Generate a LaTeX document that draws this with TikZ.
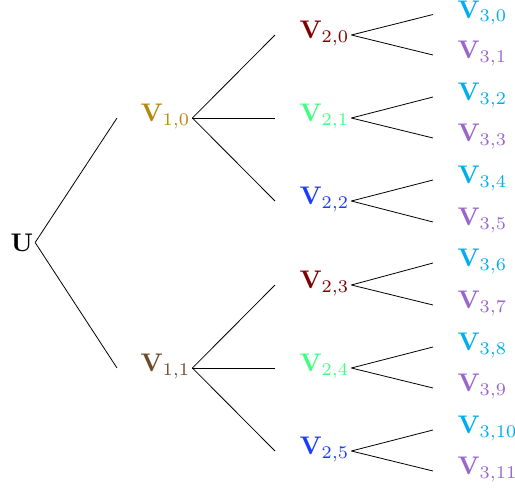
\documentclass[tikz,border=0pt]{standalone}
\usepackage{xcolor}
\definecolor{cA}{RGB}{184,134,11}
\definecolor{cB}{RGB}{111,74,42}
\definecolor{cC}{RGB}{128,0,0}
\definecolor{cD}{RGB}{64,255,128}
\definecolor{cE}{RGB}{26,60,255}
\definecolor{cF}{RGB}{0,174,239}
\definecolor{cG}{RGB}{153,102,204}
\begin{document}
\begin{tikzpicture}[x=1pt,y=-1pt,
  lbl/.style={anchor=west,scale=2.55,transform shape,inner xsep=0.6pt,inner ysep=0pt,text height=5.6pt,text depth=2.85pt},
  br/.style={line width=0.8pt}]
\useasboundingbox (0,0) rectangle (515,488);
\node[lbl,text height=6.86pt,text depth=0pt] (u) at (8.5,242.5) {$\mathbf{U}$};
\node[lbl,text=cA] (a0) at (138.5,118) {$\mathbf{V}_{1,0}$};
\node[lbl,text=cB] (a1) at (138.5,368) {$\mathbf{V}_{1,1}$};
\node[lbl,text=cC] (b0) at (297.5,35) {$\mathbf{V}_{2,0}$};
\node[lbl,text=cD] (b1) at (297.5,118) {$\mathbf{V}_{2,1}$};
\node[lbl,text=cE] (b2) at (297.5,201) {$\mathbf{V}_{2,2}$};
\node[lbl,text=cC] (b3) at (297.5,285) {$\mathbf{V}_{2,3}$};
\node[lbl,text=cD] (b4) at (297.5,368) {$\mathbf{V}_{2,4}$};
\node[lbl,text=cE] (b5) at (297.5,451) {$\mathbf{V}_{2,5}$};
\node[lbl,text=cF] (c0) at (455.5,14.5) {$\mathbf{V}_{3,0}$};
\node[lbl,text=cG] (c1) at (455.5,55) {$\mathbf{V}_{3,1}$};
\node[lbl,text=cF] (c2) at (455.5,97) {$\mathbf{V}_{3,2}$};
\node[lbl,text=cG] (c3) at (455.5,138) {$\mathbf{V}_{3,3}$};
\node[lbl,text=cF] (c4) at (455.5,180) {$\mathbf{V}_{3,4}$};
\node[lbl,text=cG] (c5) at (455.5,222) {$\mathbf{V}_{3,5}$};
\node[lbl,text=cF] (c6) at (455.5,263) {$\mathbf{V}_{3,6}$};
\node[lbl,text=cG] (c7) at (455.5,305) {$\mathbf{V}_{3,7}$};
\node[lbl,text=cF] (c8) at (455.5,347) {$\mathbf{V}_{3,8}$};
\node[lbl,text=cG] (c9) at (455.5,388) {$\mathbf{V}_{3,9}$};
\node[lbl,text=cF] (c10) at (455.5,430) {$\mathbf{V}_{3,10}$};
\node[lbl,text=cG] (c11) at (455.5,471) {$\mathbf{V}_{3,11}$};
\draw[br] (u.east) -- ([xshift=-21.5pt]a0.west);
\draw[br] (u.east) -- ([xshift=-21.5pt]a1.west);
\foreach \p/\k in {a0/b0,a0/b1,a0/b2,a1/b3,a1/b4,a1/b5,b0/c0,b0/c1,b1/c2,b1/c3,b2/c4,b2/c5,b3/c6,b3/c7,b4/c8,b4/c9,b5/c10,b5/c11}
  \draw[br] (\p.east) -- ([xshift=-22.5pt]\k.west);
\end{tikzpicture}
\end{document}
